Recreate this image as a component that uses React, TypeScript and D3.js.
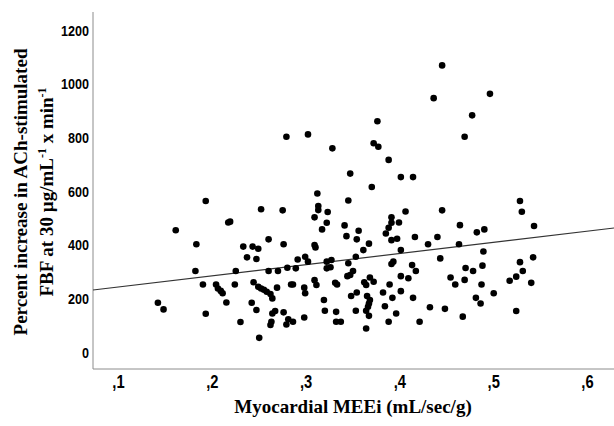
import React from 'react';
import * as d3 from 'd3';

const width = 614;
const height = 426;

// Myocardial MEEi (mL/sec/g)
const meei = [
  0.193, 0.252, 0.217, 0.219, 0.161, 0.183, 0.233, 0.243, 0.249, 0.260,
  0.237, 0.247, 0.182, 0.225, 0.260, 0.190, 0.204, 0.206, 0.209, 0.211,
  0.224, 0.244, 0.249, 0.252, 0.255, 0.258, 0.262, 0.264, 0.215, 0.242,
  0.247, 0.142, 0.148, 0.193, 0.230, 0.262, 0.263, 0.250,
  0.279, 0.302, 0.376, 0.436, 0.328, 0.372, 0.377, 0.388, 0.347, 0.401,
  0.414, 0.370, 0.312, 0.345, 0.275, 0.313, 0.313, 0.323, 0.309, 0.322,
  0.317, 0.341, 0.356, 0.343, 0.354, 0.367, 0.391, 0.391, 0.399, 0.406,
  0.388, 0.385, 0.391, 0.397, 0.416, 0.440, 0.276, 0.309, 0.310, 0.361,
  0.401, 0.430,
  0.443, 0.270, 0.280, 0.289, 0.291, 0.299, 0.302, 0.322, 0.327, 0.322,
  0.326, 0.345, 0.353, 0.350, 0.347, 0.344, 0.393, 0.391, 0.413, 0.417,
  0.401, 0.409, 0.362, 0.364, 0.368, 0.372, 0.389, 0.284, 0.286, 0.309,
  0.311, 0.331, 0.333, 0.269, 0.298, 0.299, 0.354, 0.348, 0.382, 0.401,
  0.392, 0.414, 0.365, 0.368, 0.367, 0.366, 0.364, 0.319, 0.384, 0.396,
  0.432, 0.320, 0.332, 0.353, 0.367, 0.267, 0.264, 0.276, 0.298, 0.281,
  0.279, 0.286, 0.332, 0.337, 0.388, 0.421, 0.364,
  0.445, 0.496, 0.477, 0.469, 0.445, 0.528, 0.530, 0.464, 0.482, 0.490,
  0.543, 0.463, 0.489, 0.470, 0.478, 0.488, 0.454, 0.459, 0.469, 0.487,
  0.528, 0.542, 0.531, 0.524, 0.517, 0.540, 0.500, 0.481, 0.486, 0.448,
  0.467, 0.524,
];

// Percent increase in ACh-stimulated FBF
const fbfIncrease = [
  563, 532, 483, 486, 454, 402, 393, 393, 385, 420,
  353, 347, 302, 302, 302, 252, 252, 237, 228, 219,
  252, 260, 243, 237, 232, 225, 216, 200, 185, 184,
  157, 184, 159, 143, 112, 101, 113, 53,
  802, 811, 860, 946, 759, 778, 765, 716, 665, 652,
  652, 615, 591, 565, 528, 544, 529, 522, 502, 482,
  457, 472, 452, 432, 420, 404, 502, 482, 483, 524,
  463, 442, 417, 422, 429, 429, 402, 399, 390, 380,
  380, 402,
  349, 302, 314, 312, 345, 355, 337, 337, 343, 312,
  316, 331, 355, 302, 287, 283, 337, 328, 324, 302,
  283, 275, 260, 250, 278, 262, 252, 252, 252, 268,
  250, 258, 252, 240, 240, 219, 222, 209, 222, 227,
  202, 202, 209, 194, 181, 169, 154, 194, 171, 144,
  167, 154, 150, 154, 135, 153, 144, 148, 129, 122,
  103, 113, 113, 113, 113, 113, 88,
  1068, 962, 882, 802, 528, 563, 523, 473, 446, 457,
  470, 402, 375, 313, 302, 322, 278, 252, 269, 252,
  335, 353, 302, 281, 266, 258, 219, 202, 181, 161,
  132, 153,
];

const xTicks = [0.1, 0.2, 0.3, 0.4, 0.5, 0.6];
const yTicks = [0, 200, 400, 600, 800, 1000, 1200];

// fit line
const fitIntercept = 201;
const fitSlope = 416;

const xDomain = [0.0728, 0.634];
const yDomain = [-63, 1267];

const xScale = d3.scaleLinear().domain(xDomain).range([93, 619.4]);
const yScale = d3.scaleLinear().domain(yDomain).range([369, 12]);

const fmtX = (d: number) => ',' + Math.round(d * 10);

const sans = "'Liberation Sans', Arial, sans-serif";
const serif = "'Liberation Serif', 'Times New Roman', serif";

export default function App() {
  const points = meei.map((x, i) => ({ x, y: fbfIncrease[i] }));
  const fitLine = d3.line<number>()
    .x(d => xScale(d))
    .y(d => yScale(fitIntercept + fitSlope * d));
  const x0 = xScale.range()[0];
  const y0 = yScale.range()[0];

  return (
    <svg width={width} height={height} style={{ position: 'absolute', left: 0, top: 0, background: '#fff' }}>
      {/* axes */}
      <line x1={x0} x2={x0} y1={yScale.range()[1]} y2={y0} stroke="#8c8c8c" strokeWidth={1} />
      <line x1={x0} x2={width} y1={y0} y2={y0} stroke="#8c8c8c" strokeWidth={1} />

      {yTicks.map(t => (
        <text key={t} transform={`translate(${x0 - 4},${yScale(t)}) scale(0.9,1.1)`} dy="0.36em" textAnchor="end"
          fontFamily={sans} fontWeight="bold" fontSize={14}>
          {t}
        </text>
      ))}
      {xTicks.map(t => (
        <text key={t} transform={`translate(${xScale(t)},388) scale(0.92,1.1)`} textAnchor="middle"
          fontFamily={sans} fontWeight="bold" fontSize={16}>
          {fmtX(t)}
        </text>
      ))}

      {/* fit line */}
      <path d={fitLine(xDomain) || ''} fill="none" stroke="#333" strokeWidth={1.2} />

      {points.map((p, i) => (
        <circle key={i} cx={xScale(p.x)} cy={yScale(p.y)} r={3.3} fill="#000" />
      ))}

      {/* titles */}
      <text x={353} y={413} textAnchor="middle" fontFamily={serif}
        fontWeight="bold" fontSize={19}>
        Myocardial MEEi (mL/sec/g)
      </text>
      <g transform="translate(27,192) rotate(-90)">
        <text x={0} y={0} textAnchor="middle" fontFamily={serif}
          fontWeight="bold" fontSize={19}>
          Percent increase in ACh-stimulated
        </text>
        <text x={0} y={26} textAnchor="middle" fontFamily={serif}
          fontWeight="bold" fontSize={19}>
          FBF at 30 µg/mL<tspan fontSize={12} dy={-7}>-1</tspan><tspan dy={7}> x min</tspan><tspan fontSize={12} dy={-7}>-1</tspan>
        </text>
      </g>
    </svg>
  );
}
